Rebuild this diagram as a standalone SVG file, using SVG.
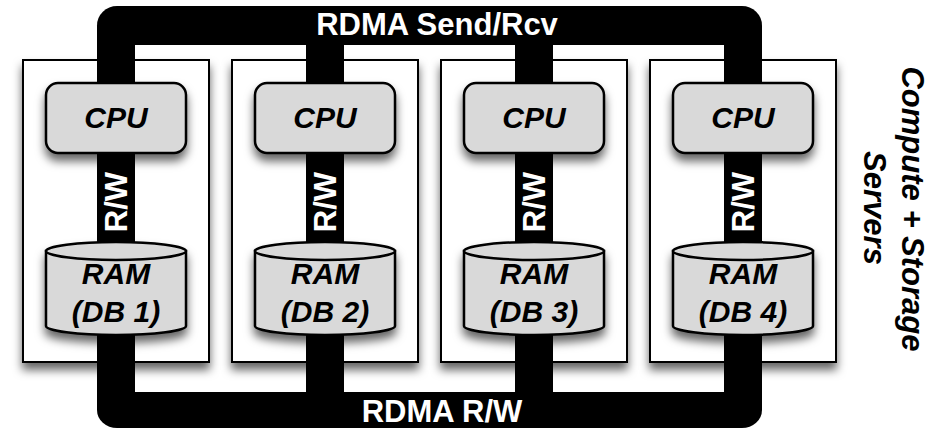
<svg xmlns="http://www.w3.org/2000/svg" width="946" height="430" viewBox="0 0 946 430">
  <defs>
    <filter id="shadow" x="-20%" y="-20%" width="140%" height="150%">
      <feDropShadow dx="0" dy="7" stdDeviation="5" flood-color="#000" flood-opacity="0.6"/>
    </filter>
    <style>
      .server { fill: #fff; stroke: #000; stroke-width: 2; filter: url(#shadow); }
      .cpu { fill: #d9d9d9; stroke: #000; stroke-width: 2.5; filter: url(#shadow); }
      .ram { fill: #d9d9d9; stroke: #000; stroke-width: 2.5; }
      .ramgrp { filter: url(#shadow); }
      .bus { fill: #000; }
      .lbl { font-family: "Liberation Sans", Arial, sans-serif; font-weight: bold; font-style: italic; font-size: 30px; text-anchor: middle; fill: #000; }
      .buslbl { font-family: "Liberation Sans", Arial, sans-serif; font-weight: bold; font-size: 31px; text-anchor: middle; fill: #fff; }
      .side { font-family: "Liberation Sans", Arial, sans-serif; font-weight: bold; font-style: italic; font-size: 31px; text-anchor: middle; fill: #000; }
    </style>
  </defs>
  <rect width="946" height="430" fill="#fff"/>

  <!-- server enclosures -->
  <g id="server-1"><rect class="server" x="23" y="60" width="186" height="302"/></g>
  <g id="server-2"><rect class="server" x="232" y="60" width="186" height="302"/></g>
  <g id="server-3"><rect class="server" x="441" y="60" width="186" height="302"/></g>
  <g id="server-4"><rect class="server" x="650" y="60" width="186" height="302"/></g>

  <!-- interconnect: send/receive bus on top, R/W bus at the bottom -->
  <g id="connectors">
    <rect class="bus" x="97" y="6" width="665" height="39" rx="20"/>
    <rect class="bus" x="97" y="392" width="665" height="36" rx="20"/>
    <rect class="bus" x="97" y="26" width="38" height="384"/>
    <rect class="bus" x="306" y="26" width="38" height="384"/>
    <rect class="bus" x="515" y="26" width="38" height="384"/>
    <rect class="bus" x="724" y="26" width="38" height="384"/>
    <text class="buslbl" x="437" y="35">RDMA Send/Rcv</text>
    <text class="buslbl" x="442" y="422">RDMA R/W</text>
    <text class="buslbl" transform="translate(127,202) rotate(-90)">R/W</text>
    <text class="buslbl" transform="translate(336,202) rotate(-90)">R/W</text>
    <text class="buslbl" transform="translate(545,202) rotate(-90)">R/W</text>
    <text class="buslbl" transform="translate(754,202) rotate(-90)">R/W</text>
  </g>

  <!-- CPUs -->
  <g id="cpu-1"><rect class="cpu" x="46" y="83" width="140" height="70" rx="12"/><text class="lbl" x="116" y="128">CPU</text></g>
  <g id="cpu-2"><rect class="cpu" x="255" y="83" width="140" height="70" rx="12"/><text class="lbl" x="325" y="128">CPU</text></g>
  <g id="cpu-3"><rect class="cpu" x="464" y="83" width="140" height="70" rx="12"/><text class="lbl" x="534" y="128">CPU</text></g>
  <g id="cpu-4"><rect class="cpu" x="673" y="83" width="140" height="70" rx="12"/><text class="lbl" x="743" y="128">CPU</text></g>

  <!-- RAM cylinders -->
  <g id="ram-1">
    <g class="ramgrp">
      <path class="ram" d="M46,251 V326 A70,9 0 0 0 186,326 V251 Z"/>
      <ellipse class="ram" cx="116" cy="251" rx="70" ry="9"/>
    </g>
    <text class="lbl" x="116" y="284">RAM</text>
    <text class="lbl" x="116" y="322">(DB 1)</text>
  </g>
  <g id="ram-2">
    <g class="ramgrp">
      <path class="ram" d="M255,251 V326 A70,9 0 0 0 395,326 V251 Z"/>
      <ellipse class="ram" cx="325" cy="251" rx="70" ry="9"/>
    </g>
    <text class="lbl" x="325" y="284">RAM</text>
    <text class="lbl" x="325" y="322">(DB 2)</text>
  </g>
  <g id="ram-3">
    <g class="ramgrp">
      <path class="ram" d="M464,251 V326 A70,9 0 0 0 604,326 V251 Z"/>
      <ellipse class="ram" cx="534" cy="251" rx="70" ry="9"/>
    </g>
    <text class="lbl" x="534" y="284">RAM</text>
    <text class="lbl" x="534" y="322">(DB 3)</text>
  </g>
  <g id="ram-4">
    <g class="ramgrp">
      <path class="ram" d="M673,251 V326 A70,9 0 0 0 813,326 V251 Z"/>
      <ellipse class="ram" cx="743" cy="251" rx="70" ry="9"/>
    </g>
    <text class="lbl" x="743" y="284">RAM</text>
    <text class="lbl" x="743" y="322">(DB 4)</text>
  </g>

  <!-- side caption -->
  <g id="caption">
    <text class="side" transform="translate(902,209) rotate(90)">Compute + Storage</text>
    <text class="side" transform="translate(864,208) rotate(90)">Servers</text>
  </g>
</svg>
